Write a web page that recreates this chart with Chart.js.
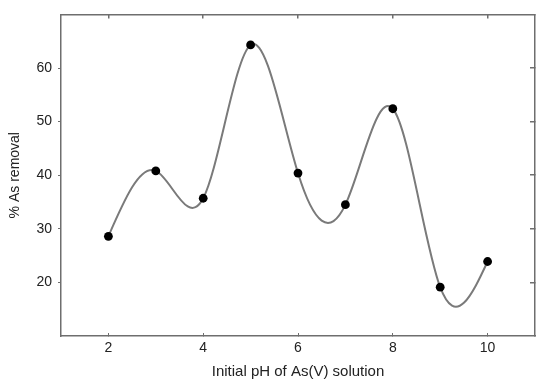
<!DOCTYPE html>
<html>
<head>
<meta charset="utf-8">
<script src="https://cdn.jsdelivr.net/npm/chart.js@4.4.1/dist/chart.umd.min.js"></script>
<style>
html,body{margin:0;padding:0;background:#fff;}
#wrap{width:550px;height:381px;position:relative;}
</style>
</head>
<body>
<div id="wrap"><canvas id="c" width="550" height="381"></canvas></div>
<script>
const phValues = [2, 3, 4, 5, 6, 7, 8, 9, 10];
const removal = [28.6, 40.8, 35.7, 64.3, 40.4, 34.5, 52.4, 19.1, 23.9];
const xTicks = [2, 4, 6, 8, 10];
const yTicks = [20, 30, 40, 50, 60];

const points = phValues.map((x, i) => ({x: x, y: removal[i]}));
const axisColor = '#6e6e6e';
const fam = '"Liberation Sans", Arial, sans-serif';
const tickFont = {family: fam, size: 14};
const xTitleFont = {family: fam, size: 15};
const yTitleFont = {family: fam, size: 14};

// Natural cubic spline tangents (data space) -> bezier control points for the library's own line element
function splineSlopes(xs, ys) {
  const n = xs.length;
  const h = [], a = [], b = [], c = [], d = [];
  for (let i = 0; i < n - 1; i++) h.push(xs[i + 1] - xs[i]);
  const M = new Array(n).fill(0);
  if (n > 2) {
    for (let i = 1; i < n - 1; i++) {
      a.push(h[i - 1]); b.push(2 * (h[i - 1] + h[i])); c.push(h[i]);
      d.push(6 * ((ys[i + 1] - ys[i]) / h[i] - (ys[i] - ys[i - 1]) / h[i - 1]));
    }
    const m = b.length;
    for (let i = 1; i < m; i++) {
      const w = a[i] / b[i - 1];
      b[i] -= w * c[i - 1]; d[i] -= w * d[i - 1];
    }
    const sol = new Array(m);
    sol[m - 1] = d[m - 1] / b[m - 1];
    for (let i = m - 2; i >= 0; i--) sol[i] = (d[i] - c[i] * sol[i + 1]) / b[i];
    for (let i = 0; i < m; i++) M[i + 1] = sol[i];
  }
  const s = [];
  for (let i = 0; i < n; i++) {
    if (i < n - 1) {
      s.push((ys[i + 1] - ys[i]) / h[i] - h[i] * (2 * M[i] + M[i + 1]) / 6);
    } else {
      s.push((ys[i] - ys[i - 1]) / h[i - 1] + h[i - 1] * (M[i - 1] + 2 * M[i]) / 6);
    }
  }
  return {slopes: s, h: h};
}

const naturalSpline = {
  id: 'naturalSpline',
  beforeDatasetsDraw(chart) {
    const meta = chart.getDatasetMeta(0);
    const line = meta.dataset;
    if (line.updateControlPoints) line.updateControlPoints(chart.chartArea, 'x');
    const els = meta.data;
    const xs = phValues, ys = removal;
    const {slopes, h} = splineSlopes(xs, ys);
    const sx = chart.scales.x, sy = chart.scales.y;
    for (let i = 0; i < els.length; i++) {
      const hp = i > 0 ? h[i - 1] / 3 : 0;
      const hn = i < h.length ? h[i] / 3 : 0;
      els[i].cp1x = sx.getPixelForValue(xs[i] - hp);
      els[i].cp1y = sy.getPixelForValue(ys[i] - hp * slopes[i]);
      els[i].cp2x = sx.getPixelForValue(xs[i] + hn);
      els[i].cp2y = sy.getPixelForValue(ys[i] + hn * slopes[i]);
    }
  }
};

new Chart(document.getElementById('c'), {
  type: 'line',
  data: {
    datasets: [{
      data: points,
      borderColor: '#7a7a7a',
      borderWidth: 2,
      tension: 0.4,
      pointRadius: 4.4,
      pointBackgroundColor: '#000',
      pointBorderColor: '#000',
      pointBorderWidth: 0,
      fill: false
    }]
  },
  plugins: [naturalSpline],
  options: {
    responsive: false,
    animation: false,
    devicePixelRatio: 1,
    plugins: {legend: {display: false}, tooltip: {enabled: false}},
    layout: {padding: {left: 0, top: 14, right: 15, bottom: 0}},
    scales: {
      x: {
        type: 'linear', position: 'bottom', min: 1, max: 11,
        afterBuildTicks: s => { s.ticks = xTicks.map(v => ({value: v})); },
        afterFit: s => { s.height = 45; },
        grid: {drawOnChartArea: false, tickLength: -3, color: axisColor, lineWidth: 1},
        border: {color: axisColor, width: 1.5},
        ticks: {font: tickFont, color: '#222', padding: 7, maxRotation: 0},
        title: {display: true, text: 'Initial pH of As(V) solution', font: xTitleFont, color: '#222', padding: {top: 0, bottom: 0}}
      },
      x2: {
        type: 'linear', position: 'top', min: 1, max: 11,
        afterBuildTicks: s => { s.ticks = xTicks.map(v => ({value: v})); },
        afterFit: s => { s.height = 0; },
        grid: {drawOnChartArea: false, tickLength: -4, color: axisColor, lineWidth: 1.5},
        border: {color: axisColor, width: 1.5},
        ticks: {display: false}
      },
      y: {
        type: 'linear', position: 'left', min: 10, max: 70,
        afterBuildTicks: s => { s.ticks = yTicks.map(v => ({value: v})); },
        afterFit: s => { s.width = 61; },
        grid: {drawOnChartArea: false, tickLength: 3, color: axisColor, lineWidth: 1},
        border: {color: axisColor, width: 1.5},
        ticks: {font: tickFont, color: '#222', padding: 6},
        title: {display: true, text: '% As removal', font: yTitleFont, color: '#222', padding: {top: 7, bottom: 0}}
      },
      y2: {
        type: 'linear', position: 'right', min: 10, max: 70,
        afterBuildTicks: s => { s.ticks = yTicks.map(v => ({value: v})); },
        afterFit: s => { s.width = 0; },
        grid: {drawOnChartArea: false, tickLength: -5, color: axisColor, lineWidth: 1.5},
        border: {color: axisColor, width: 1.5},
        ticks: {display: false}
      }
    }
  }
});
</script>
</body>
</html>
